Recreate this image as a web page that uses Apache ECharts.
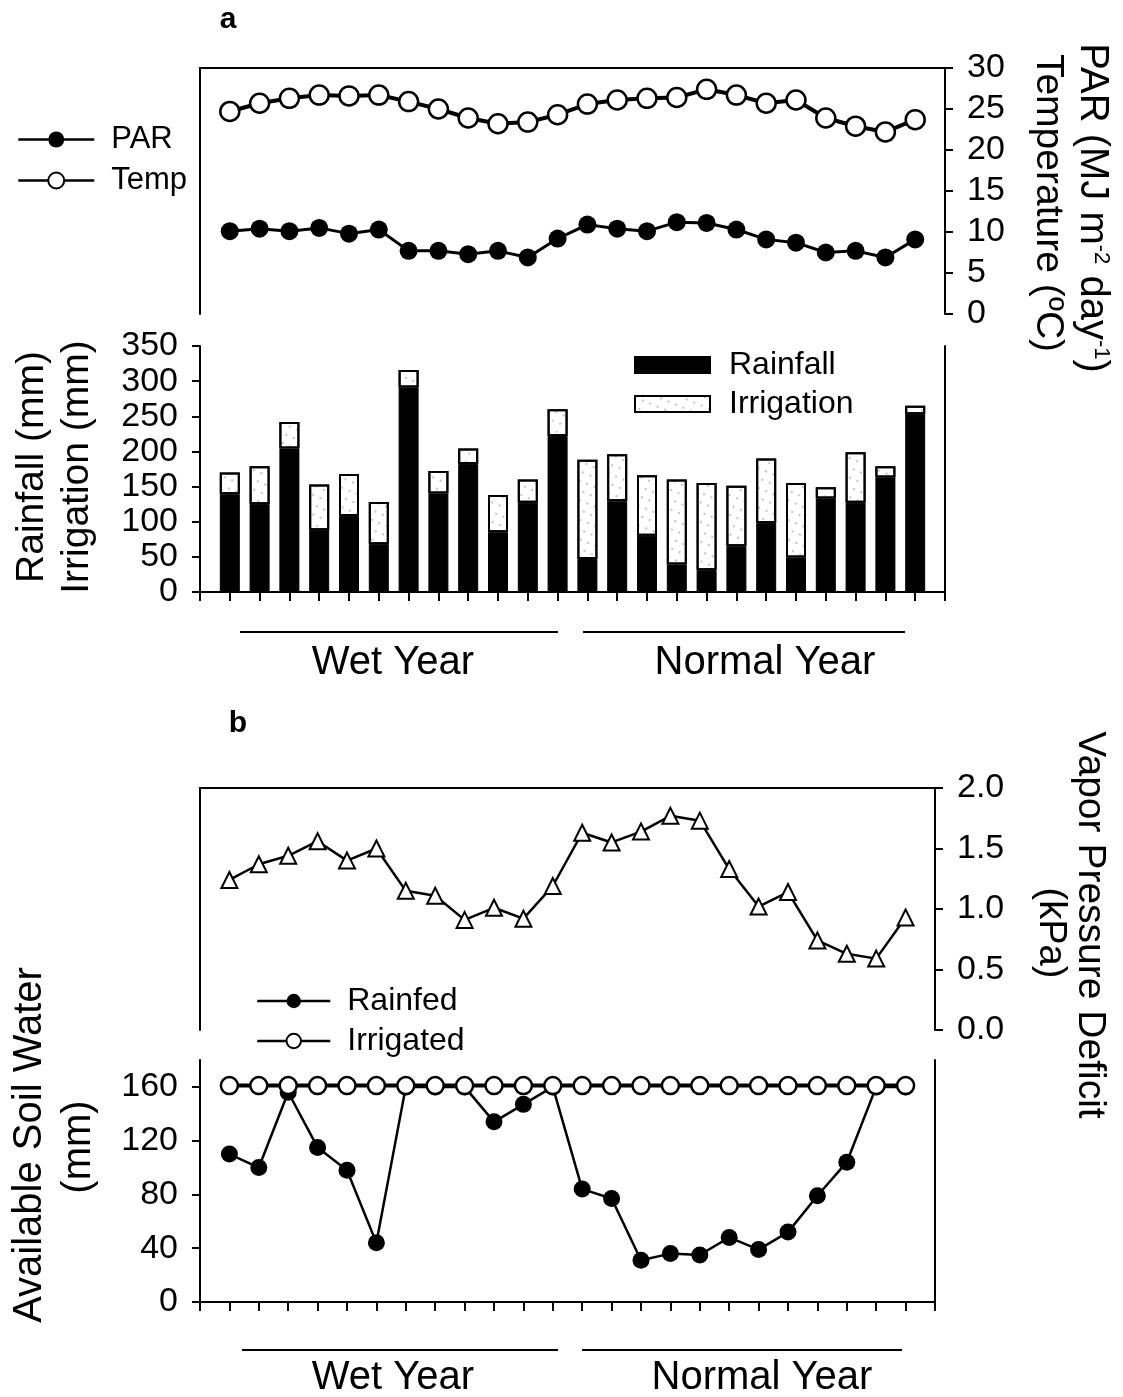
<!DOCTYPE html>
<html>
<head>
<meta charset="utf-8">
<script src="https://cdn.jsdelivr.net/npm/echarts@6/dist/echarts.min.js"></script>
<style>
html,body{margin:0;padding:0;background:#fff;}
#main{width:1123px;height:1397px;}
</style>
</head>
<body>
<div id="main"></div>
<script>
// 24 periods: 12 in the wet year, 12 in the normal year
var periods = ['1','2','3','4','5','6','7','8','9','10','11','12','13','14','15','16','17','18','19','20','21','22','23','24'];
var parVals = [10.1,10.4,10.1,10.5,9.8,10.3,7.7,7.7,7.3,7.7,6.9,9.2,10.9,10.4,10.1,11.2,11.1,10.3,9.1,8.7,7.5,7.7,6.9,9.1];
var tempVals = [24.7,25.7,26.3,26.7,26.6,26.7,25.9,25.0,23.9,23.2,23.4,24.3,25.6,26.1,26.3,26.4,27.4,26.7,25.7,26.1,23.9,22.9,22.2,23.7];
var rainVals = [139,125,204,88,108,68,291,140,182,85,127,222,47,129,80,39,31,65,98,49,133,127,163,253];
var irrVals = [31,54,38,65,60,60,25,32,22,53,33,38,141,67,86,121,124,86,92,106,16,72,16,12];
var vpdVals = [1.24,1.37,1.44,1.56,1.40,1.50,1.15,1.11,0.91,1.01,0.92,1.19,1.63,1.55,1.64,1.77,1.73,1.33,1.02,1.14,0.74,0.63,0.59,0.93];
var rainfedVals = [110,100,156,115,98,44,160,160,160,134,147,160,84,77,31,36,35,48,39,52,79,104,160,160];
var irrigatedVals = [161,161,161,161,161,161,161,161,161,161,161,161,161,161,161,161,161,161,161,161,161,161,161,161];
var soilTicks = [0,40,80,120,160];

var font = '"Liberation Sans", Arial, Helvetica, sans-serif';

//one empty slot at each end so the points sit one step in from the frame
var xCats = [''].concat(periods, ['']);
function pad(arr){
	return [null].concat(arr, [null]);
}

function xAxisOf(grid, pos, ticks){
	return {
		type:'category', gridIndex:grid, data:xCats, boundaryGap:false, position:pos,
		axisLine:{show:true, onZero:false, lineStyle:{color:'#000', width:2}},
		axisTick:{show:ticks, inside:false, interval:0, length:9, lineStyle:{color:'#000', width:2}},
		axisLabel:{show:false, interval:0},
		splitLine:{show:false}
	};
}
function yLineOf(grid, pos, min, max){
	return {
		type:'value', gridIndex:grid, min:min, max:max, position:pos,
		axisLine:{show:true, onZero:false, lineStyle:{color:'#000', width:2}},
		axisTick:{show:false}, axisLabel:{show:false}, splitLine:{show:false}
	};
}
function yScaleOf(grid, pos, min, max, step, fmt){
	return {
		type:'value', gridIndex:grid, min:min, max:max, interval:step, position:pos,
		axisLine:{show:true, onZero:false, lineStyle:{color:'#000', width:2}},
		axisTick:{show:true, inside:false, length:8, lineStyle:{color:'#000', width:2}},
		axisLabel:{show:true, color:'#000', fontFamily:font, fontSize:34, margin:22, formatter:fmt},
		splitLine:{show:false}
	};
}

var myChart = echarts.init(document.getElementById('main'), null, {renderer:'canvas'});

var soilAxis = yScaleOf(3,'left',0,180,40);
soilAxis.axisTick.customValues = soilTicks;
soilAxis.axisLabel.customValues = soilTicks;

function legendText(size, gap){
	return {fontFamily:font, color:'#000', fontSize:size, padding:[0,0,0,gap]};
}

var option = {
	backgroundColor:'#fff',
	animation:false,
	textStyle:{fontFamily:font, color:'#000'},
	grid:[
		{left:200, right:178, top:68, height:246},
		{left:200, right:178, top:346, height:246},
		{left:200, right:188, top:788, height:242},
		{left:200, right:188, top:1060, height:242}
	],
	xAxis:[
		xAxisOf(0,'top',false),
		xAxisOf(1,'bottom',true),
		xAxisOf(2,'top',false),
		xAxisOf(3,'bottom',true)
	],
	yAxis:[
		yLineOf(0,'left',0,30),
		yScaleOf(0,'right',0,30,5),
		yScaleOf(1,'left',0,350,50),
		yLineOf(1,'right',0,350),
		yLineOf(2,'left',0,2),
		yScaleOf(2,'right',0,2,0.5,function(v){ return v.toFixed(1); }),
		soilAxis,
		yLineOf(3,'right',0,180)
	],
	legend:[
		{
			data:['PAR','Temp'], orient:'vertical', left:12, top:119,
			itemWidth:76, itemHeight:20, itemGap:10, selectedMode:false,
			lineStyle:{width:2.5, color:'#000'},
			textStyle:legendText(31, 12)
		},
		{
			data:[{name:'Rainfall', icon:'rect'},{name:'Irrigation', icon:'rect'}], orient:'vertical', left:629, top:344,
			itemWidth:75, itemHeight:16, itemGap:7, selectedMode:false,
			textStyle:legendText(32, 14)
		},
		{
			data:['Rainfed','Irrigated'], orient:'vertical', left:251, top:980,
			itemWidth:73, itemHeight:18, itemGap:8, selectedMode:false,
			lineStyle:{width:2.5, color:'#000'},
			textStyle:legendText(32, 12)
		}
	],
	series:[
		{
			name:'PAR', type:'line', xAxisIndex:0, yAxisIndex:1, data:pad(parVals),
			symbol:'circle', symbolSize:18,
			lineStyle:{color:'#000', width:3}, itemStyle:{color:'#000'}
		},
		{
			name:'Temp', type:'line', xAxisIndex:0, yAxisIndex:1, data:pad(tempVals),
			symbol:'circle', symbolSize:19,
			lineStyle:{color:'#000', width:4},
			itemStyle:{color:'#fff', borderColor:'#000', borderWidth:2.5}
		},
		{
			name:'Rainfall', type:'bar', xAxisIndex:1, yAxisIndex:2, stack:'water',
			barWidth:20, data:pad(rainVals),
			itemStyle:{color:'#000', borderColor:'#000', borderWidth:1}
		},
		{
			name:'Irrigation', type:'bar', xAxisIndex:1, yAxisIndex:2, stack:'water',
			barWidth:20, data:pad(irrVals),
			itemStyle:{
				color:'#fff', borderColor:'#000', borderWidth:2,
				decal:{symbol:'circle', symbolSize:0.9, color:'rgba(60,60,60,0.45)', dashArrayX:[1.5,6], dashArrayY:[1.5,7], rotation:0.4}
			}
		},
		{
			name:'VPD', type:'line', xAxisIndex:2, yAxisIndex:5, data:pad(vpdVals),
			symbol:'triangle', symbolSize:16,
			lineStyle:{color:'#000', width:2.5},
			itemStyle:{color:'#fff', borderColor:'#000', borderWidth:2}
		},
		{
			name:'Rainfed', type:'line', xAxisIndex:3, yAxisIndex:6, data:pad(rainfedVals),
			symbol:'circle', symbolSize:17,
			lineStyle:{color:'#000', width:2.5}, itemStyle:{color:'#000'}
		},
		{
			name:'Irrigated', type:'line', xAxisIndex:3, yAxisIndex:6, data:pad(irrigatedVals),
			symbol:'circle', symbolSize:17,
			lineStyle:{color:'#000', width:4},
			itemStyle:{color:'#fff', borderColor:'#000', borderWidth:2.5}
		}
	],
	graphic:[
		// panel letters
		{type:'text', x:228, y:20, style:{text:'a', font:'bold 30px ' + font, fill:'#000', align:'center', verticalAlign:'middle'}},
		{type:'text', x:238, y:724, style:{text:'b', font:'bold 30px ' + font, fill:'#000', align:'center', verticalAlign:'middle'}},
		// right axis titles, panel a
		{type:'text', x:1092, y:208, rotation:-Math.PI/2, style:{
			text:'{n|PAR (MJ m}{s|-2}{n| day}{s|-1}{n|)}', align:'center', verticalAlign:'middle', fill:'#000',
			rich:{n:{fontFamily:font, fontSize:40, fill:'#000'}, s:{fontFamily:font, fontSize:22, fill:'#000', verticalAlign:'top'}}
		}},
		{type:'text', x:1048, y:203, rotation:-Math.PI/2, style:{text:'Temperature (ºC)', font:'39px ' + font, fill:'#000', align:'center', verticalAlign:'middle'}},
		// left axis titles, bars
		{type:'text', x:32, y:467, rotation:Math.PI/2, style:{text:'Rainfall (mm)', font:'39px ' + font, fill:'#000', align:'center', verticalAlign:'middle'}},
		{type:'text', x:77, y:467, rotation:Math.PI/2, style:{text:'Irrigation (mm)', font:'39px ' + font, fill:'#000', align:'center', verticalAlign:'middle'}},
		// right axis title, panel b
		{type:'text', x:1090, y:925, rotation:-Math.PI/2, style:{text:'Vapor Pressure Deficit', font:'39px ' + font, fill:'#000', align:'center', verticalAlign:'middle'}},
		{type:'text', x:1050, y:933, rotation:-Math.PI/2, style:{text:'(kPa)', font:'38px ' + font, fill:'#000', align:'center', verticalAlign:'middle'}},
		// left axis title, soil water
		{type:'text', x:30, y:1145, rotation:Math.PI/2, style:{text:'Available Soil Water', font:'40px ' + font, fill:'#000', align:'center', verticalAlign:'middle'}},
		{type:'text', x:79, y:1147, rotation:Math.PI/2, style:{text:'(mm)', font:'40px ' + font, fill:'#000', align:'center', verticalAlign:'middle'}},
		// year groups under panel a
		{type:'line', shape:{x1:240, y1:632, x2:558, y2:632}, style:{stroke:'#000', lineWidth:2}},
		{type:'line', shape:{x1:583, y1:632, x2:905, y2:632}, style:{stroke:'#000', lineWidth:2}},
		{type:'text', x:393, y:663, style:{text:'Wet Year', font:'40px ' + font, fill:'#000', align:'center', verticalAlign:'middle'}},
		{type:'text', x:765, y:663, style:{text:'Normal Year', font:'40px ' + font, fill:'#000', align:'center', verticalAlign:'middle'}},
		// year groups under panel b
		{type:'line', shape:{x1:242, y1:1350, x2:558, y2:1350}, style:{stroke:'#000', lineWidth:2}},
		{type:'line', shape:{x1:582, y1:1350, x2:902, y2:1350}, style:{stroke:'#000', lineWidth:2}},
		{type:'text', x:393, y:1378, style:{text:'Wet Year', font:'40px ' + font, fill:'#000', align:'center', verticalAlign:'middle'}},
		{type:'text', x:762, y:1378, style:{text:'Normal Year', font:'40px ' + font, fill:'#000', align:'center', verticalAlign:'middle'}}
	]
};

myChart.setOption(option);
</script>
</body>
</html>
